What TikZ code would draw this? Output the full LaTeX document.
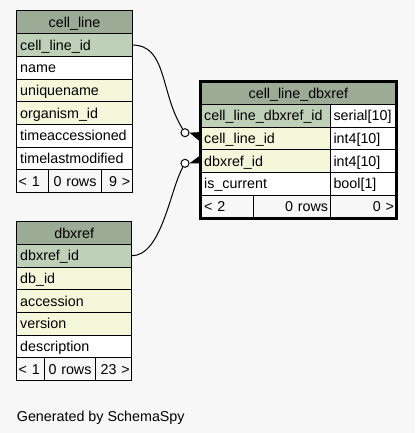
\documentclass[tikz,border=0pt]{standalone}
\usepackage{fontspec}
\setmainfont{Liberation Sans}
\usepackage{tikz}
\usetikzlibrary{positioning, fit, calc}
\definecolor{headgreen}{RGB}{155,171,150}
\definecolor{keygreen}{RGB}{190,209,184}
\definecolor{idxyellow}{RGB}{244,247,218}
\definecolor{pagegray}{RGB}{247,247,247}
\tikzset{
x=1pt, y=-1pt, % one unit is one pixel, y runs down the page
node distance=0pt, % rows of a table touch each other
cell/.style={draw=black, line width=1pt, rectangle, outer sep=0pt, inner xsep=3.5pt, inner ysep=0pt, minimum height=22.7pt, text height=10.2pt, text depth=0pt, font=\fontsize{14.3}{16}\selectfont}, % one box of a table
head/.style={cell, fill=headgreen, align=center, text width=#1}, % table name
pkey/.style={cell, fill=keygreen, align=left, text width=#1}, % primary key
idx/.style={cell, fill=idxyellow, align=left, text width=#1}, % indexed column
plain/.style={cell, fill=white, align=left, text width=#1}, % other column
foot/.style={cell, fill=pagegray, inner xsep=2pt, text width=#1}, % row counts
crowend/.style={circle, draw=black, fill=white, line width=1pt, minimum size=8pt, inner sep=0pt}, % optional end of a relation
}
\begin{document}
\begin{tikzpicture}
        \path[fill=pagegray, use as bounding box] (0,0) rectangle (415,433);

        % cell_line
        \node[head=108.6pt, anchor=north west] (cl-hdr) at (16.7,11) {cell\_line};
        \node[pkey=108.6pt, below=of cl-hdr] (cl-id) {cell\_line\_id};
        \node[plain=108.6pt, below=of cl-id] (cl-name) {name};
        \node[idx=108.6pt, below=of cl-name] (cl-uname) {uniquename};
        \node[idx=108.6pt, below=of cl-uname] (cl-org) {organism\_id};
        \node[plain=108.6pt, below=of cl-org] (cl-tacc) {timeaccessioned};
        \node[plain=108.6pt, below=of cl-tacc] (cl-tmod) {timelastmodified};
        \node[foot=27.6pt, align=left, anchor=north west] (cl-f1) at (cl-tmod.south west) {<~1};
        \node[foot=49.4pt, align=center, right=of cl-f1] (cl-f2) {0~rows};
        \node[foot=26.6pt, align=right, right=of cl-f2] (cl-f3) {9~>};

        % dbxref
        \node[head=108pt, anchor=north west] (dx-hdr) at (16.7,221.7) {dbxref};
        \node[pkey=108pt, below=of dx-hdr] (dx-id) {dbxref\_id};
        \node[idx=108pt, below=of dx-id] (dx-db) {db\_id};
        \node[idx=108pt, below=of dx-db] (dx-acc) {accession};
        \node[idx=108pt, below=of dx-acc] (dx-ver) {version};
        \node[plain=108pt, below=of dx-ver] (dx-desc) {description};
        \node[foot=23.6pt, align=left, anchor=north west] (dx-f1) at (dx-desc.south west) {<~1};
        \node[foot=47.4pt, align=center, right=of dx-f1] (dx-f2) {0~rows};
        \node[foot=32pt, align=right, right=of dx-f2] (dx-f3) {23~>};

        % cell_line_dbxref
        \node[head=188.3pt, anchor=north west] (cld-hdr) at (200.7,81.7) {cell\_line\_dbxref};
        \node[pkey=122.3pt, anchor=north west] (cld-pk) at (cld-hdr.south west) {cell\_line\_dbxref\_id};
        \node[plain=59pt, right=of cld-pk] (cld-pkt) {serial[10]};
        \node[idx=122.3pt, below=of cld-pk] (cld-cid) {cell\_line\_id};
        \node[plain=59pt, right=of cld-cid] (cld-cidt) {int4[10]};
        \node[idx=122.3pt, below=of cld-cid] (cld-did) {dbxref\_id};
        \node[plain=59pt, right=of cld-did] (cld-didt) {int4[10]};
        \node[plain=122.3pt, below=of cld-did] (cld-cur) {is\_current};
        \node[plain=59pt, right=of cld-cur] (cld-curt) {bool[1]};
        \node[foot=48.6pt, align=left, inner xsep=3.5pt, text width=45.6pt, anchor=north west] (cld-f1) at (cld-cur.south west) {<~2};
        \node[foot=72.7pt, align=right, right=of cld-f1] (cld-f2) {0~rows};
        \node[foot=62pt, align=right, right=of cld-f2] (cld-f3) {0~>};
        \node[fit=(cld-hdr)(cld-f3), draw=black, line width=3pt, inner sep=0.5pt] (cld) {};

        % relations
        \node[crowend] (c1) at (185,132.7) {};
        \node[crowend] (c2) at (185,163.3) {};
        \draw[line width=1pt] (cl-id.east) .. controls +(35,0) and +(-25,-39.7) .. (c1);
        \draw[line width=1pt] (dx-id.east) .. controls +(30,0) and +(-15,26.7) .. (c2);
        \fill (c1.east) -- ($(cld-cid.west)+(-1.7,-6.3)$) -- ($(cld-cid.west)+(-1.7,2.2)$) -- cycle;
        \fill (c2.east) -- ($(cld-did.west)+(-1.7,-4.85)$) -- ($(cld-did.west)+(-1.7,2.15)$) -- cycle;

        \node[anchor=base west, inner sep=0pt, font=\fontsize{14.3}{16}\selectfont] (credit) at (16.7,421) {Generated by SchemaSpy};
      \end{tikzpicture}
\end{document}
